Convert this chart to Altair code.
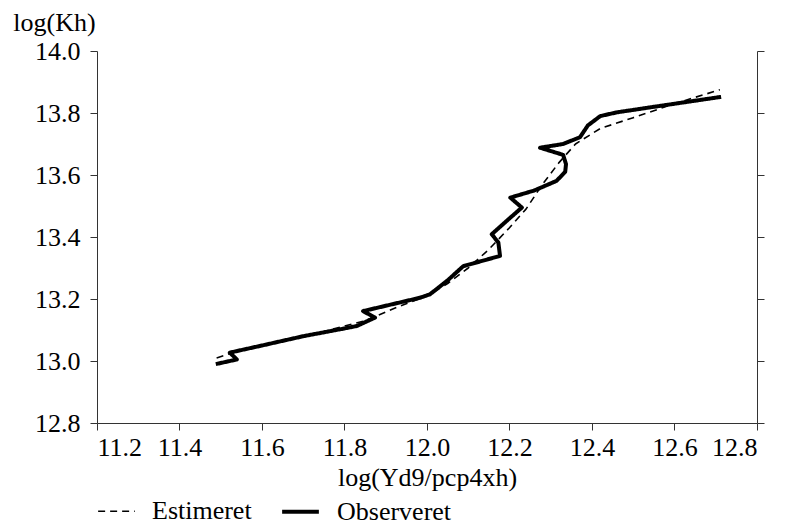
import altair as alt
import pandas as pd

obs_x = [11.488, 11.539, 11.522, 11.60, 11.70, 11.80, 11.830, 11.874, 11.845, 11.983,
         12.007, 12.050, 12.088, 12.177, 12.173, 12.157, 12.200, 12.230, 12.202, 12.260,
         12.314, 12.335, 12.337, 12.330, 12.274, 12.330, 12.371, 12.390, 12.420, 12.460,
         12.550, 12.713]
obs_y = [12.990, 13.005, 13.027, 13.050, 13.080, 13.105, 13.113, 13.140, 13.161, 13.204,
         13.215, 13.260, 13.306, 13.339, 13.382, 13.409, 13.460, 13.495, 13.527, 13.550,
         13.581, 13.610, 13.635, 13.665, 13.688, 13.700, 13.722, 13.760, 13.790, 13.802,
         13.820, 13.852]

est_x = [11.49, 11.55, 11.65, 11.75, 11.85, 11.93, 12.00, 12.05, 12.10, 12.15, 12.20,
         12.24, 12.28, 12.32, 12.36, 12.42, 12.50, 12.60, 12.71]
est_y = [13.010, 13.035, 13.065, 13.095, 13.130, 13.175, 13.210, 13.250, 13.300, 13.360,
         13.430, 13.490, 13.570, 13.640, 13.700, 13.750, 13.785, 13.830, 13.875]

series = ["Estimeret", "Observeret"]

rows = []
for i, (x, y) in enumerate(zip(est_x, est_y)):
    rows.append({"x": x, "y": y, "s": series[0], "o": i})
for i, (x, y) in enumerate(zip(obs_x, obs_y)):
    rows.append({"x": x, "y": y, "s": series[1], "o": i})
df = pd.DataFrame(rows)

FONT = "Liberation Serif"
FS = 26

xs = alt.Scale(domain=[11.2, 12.8], nice=False, zero=False)
ys = alt.Scale(domain=[12.8, 14.0], nice=False, zero=False)

common = dict(labelFont=FONT, titleFont=FONT, labelFontSize=FS, titleFontSize=FS,
              labelColor="black", titleColor="black", titleFontWeight="normal",
              grid=False, tickSize=7, domainColor="#333333", tickColor="#333333")

legend = alt.Legend(title=None, orient="none", legendX=0, legendY=440,
                    direction="horizontal", symbolType="stroke",
                    symbolSize=1350, symbolStrokeColor="black",
                    labelFont=FONT, labelFontSize=FS, labelOffset=16,
                    labelColor="black", columnPadding=22)

base = alt.Chart(df)

lines = base.mark_line(color="black", strokeJoin="round").encode(
    x=alt.X("x:Q", scale=xs, axis=alt.Axis(
        title="log(Yd9/pcp4xh)", values=[11.2 + 0.2 * k for k in range(9)],
        format=".1f", labelBaseline="alphabetic", labelPadding=25,
        titleBaseline="alphabetic", titleY=62, **common)),
    y=alt.Y("y:Q", scale=ys, axis=alt.Axis(
        title="log(Kh)", titleAngle=0, titleAlign="center", titleBaseline="alphabetic",
        titleX=-43, titleY=-21, values=[12.8 + 0.2 * k for k in range(7)],
        format=".1f", labelPadding=10, **common)),
    detail="s:N",
    order="o:Q",
    strokeDash=alt.StrokeDash("s:N", scale=alt.Scale(domain=series, range=[[7, 5], [1, 0]]),
                              legend=legend),
    strokeWidth=alt.StrokeWidth("s:N", scale=alt.Scale(domain=series, range=[1.6, 4]),
                                legend=legend),
)

right = base.mark_line(opacity=0).encode(
    x=alt.X("x:Q", scale=xs),
    y=alt.Y("y:Q", scale=ys, axis=alt.Axis(
        orient="right", title=None, labels=False, values=[12.8 + 0.2 * k for k in range(7)],
        grid=False, tickSize=7, domainColor="#333333", tickColor="#333333")),
    detail="s:N",
)

chart = alt.layer(lines, right).resolve_axis(y="independent").properties(
    width=660, height=372,
    autosize=alt.AutoSizeParams(type="none"),
    padding={"left": 89, "top": 43, "right": 27, "bottom": 110},
).configure_view(stroke=None)

chart.save("out.html", embed_options={"renderer": "svg", "actions": False})
